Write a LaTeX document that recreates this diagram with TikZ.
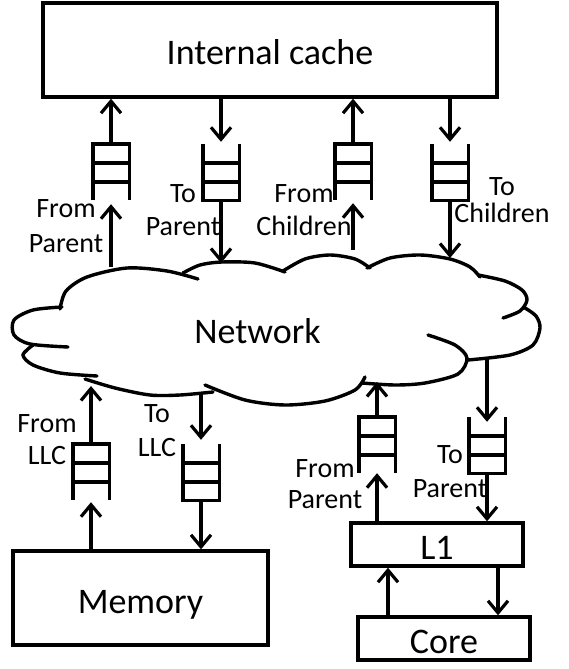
\documentclass[tikz,border=0pt]{standalone}
\usepackage{fontspec}
\setmainfont{Carlito}
\usetikzlibrary{arrows.meta,calc}
\tikzset{
  box/.style={draw, line width=3.4pt, inner sep=0pt, text height=30pt, text depth=0pt, font=\fontsize{36}{43}\selectfont},
  qnode/.style={inner sep=0pt, minimum width=36pt, minimum height=56pt},
  qline/.style={line width=3.4pt},
  arr/.style={line width=3.2pt, -{Straight Barb[length=12pt,width=20pt]}},
  lbl/.style={align=center, inner sep=0pt, anchor=north, font=\fontsize{28}{#1}\selectfont},
  cloudline/.style={line width=3.4pt, line cap=round},
}
\newcommand\qfrom[2]{%
  \node[qnode] (#1) at (#2) {};
  \draw[qline] (#1.south west) -- (#1.north west) -- (#1.north east) -- (#1.south east);
  \draw[qline] ($(#1.north west)!0.34!(#1.south west)$) -- ($(#1.north east)!0.34!(#1.south east)$);
  \draw[qline] ($(#1.north west)!0.68!(#1.south west)$) -- ($(#1.north east)!0.68!(#1.south east)$);
}
\newcommand\qto[2]{%
  \node[qnode] (#1) at (#2) {};
  \draw[qline] (#1.north west) -- (#1.south west) -- (#1.south east) -- (#1.north east);
  \draw[qline] ($(#1.north west)!0.34!(#1.south west)$) -- ($(#1.north east)!0.34!(#1.south east)$);
  \draw[qline] ($(#1.north west)!0.68!(#1.south west)$) -- ($(#1.north east)!0.68!(#1.south east)$);
}
\begin{document}
\begin{tikzpicture}[x=1pt,y=-1pt]
\useasboundingbox (0,0) rectangle (569,669);

% boxes
\node[box, minimum width=454pt, minimum height=94pt] (cache) at (270,50) {Internal cache};
\node[box, minimum width=255pt, minimum height=94pt] (mem) at (140.5,598) {Memory};
\node[box, minimum width=172pt, minimum height=43pt] (l1) at (437,544.5) {L1};
\node[box, minimum width=172pt, minimum height=43pt] (core) at (444,638.5) {Core};

% cloud
\draw[cloudline] plot[smooth] coordinates {(60,309) (66,291) (87,277) (127,268) (167,271) (198,279)};
\draw[cloudline] plot[smooth] coordinates {(183,273) (200,265) (222,262) (255,263) (285,272)};
\draw[cloudline] plot[smooth] coordinates {(283,271) (305,259) (330,255) (355,259) (370,268)};
\draw[cloudline] plot[smooth] coordinates {(367,268) (390,258) (420,255) (450,259) (470,267) (480,277)};
\draw[cloudline] plot[smooth] coordinates {(478,275) (505,281) (522,290) (527,300) (520,311) (503,318)};
\draw[cloudline] plot[smooth] coordinates {(525,308) (536,316) (540,328) (533,345) (510,355) (468,360)};
\draw[cloudline] plot[smooth] coordinates {(428,335) (455,345) (467,358) (458,374) (425,383) (395,385) (362,383)};
\draw[cloudline] plot[smooth] coordinates {(365,377) (355,390) (325,401) (285,405) (245,400) (205,385)};
\draw[cloudline] plot[smooth] coordinates {(213,392) (180,395) (150,395) (115,388) (85,379)};
\draw[cloudline] plot[smooth] coordinates {(97,376) (60,373) (33,365) (23,355) (33,345)};
\draw[cloudline] plot[smooth] coordinates {(62,307) (33,310) (14,320) (14,335) (30,344) (68,347)};
\node[font=\fontsize{36}{43}\selectfont, anchor=base, inner sep=0pt] (net) at (257.5,343) {Network};

\coordinate (c1) at (111,267);
\coordinate (c2) at (221,263);
\coordinate (c3) at (353,250);
\coordinate (c4) at (450,258);
\coordinate (c5) at (91,386);
\coordinate (c6) at (201,395);
\coordinate (c7) at (377,382);
\coordinate (c8) at (487,357);

% queues
\qfrom{q1}{111,172}
\qto{q2}{221,172}
\qfrom{q3}{353,172}
\qto{q4}{450,172}
\qfrom{q5}{91,472}
\qto{q6}{201,472}
\qfrom{q7}{377,445}
\qto{q8}{487,445}

% arrows top
\draw[arr] (q1.north) -- (q1.north |- cache.south);
\draw[arr, shorten >=4pt] (c1) -- (q1.south);
\draw[arr, shorten >=2pt] (q2.north |- cache.south) -- (q2.north);
\draw[arr] (q2.south) -- (c2);
\draw[arr] (q3.north) -- (q3.north |- cache.south);
\draw[arr, shorten >=3pt] (c3) -- (q3.south);
\draw[arr, shorten >=2pt] (q4.north |- cache.south) -- (q4.north);
\draw[arr] (q4.south) -- (c4);
% arrows bottom left
\draw[arr] (q5.north) -- (c5);
\draw[arr, shorten >=2pt] (q5.south |- mem.north) -- (q5.south);
\draw[arr, shorten >=4pt] (c6) -- (q6.north);
\draw[arr] (q6.south) -- (q6.south |- mem.north);
% arrows bottom right
\draw[arr] (q7.north) -- (c7);
\draw[arr] (q7.south |- l1.north) -- (q7.south);
\draw[arr, shorten >=-5pt] (c8) -- (q8.north);
\draw[arr] (q8.south) -- (q8.south |- l1.north);
\draw[arr] ([xshift=-56pt]core.north) -- ([xshift=-56pt]core.north |- l1.south);
\draw[arr] ([xshift=61pt]l1.south) -- ([xshift=61pt]l1.south |- core.north);

% labels
\node[lbl=35] (t1) at (66,197) {\rule{0pt}{20pt}From\\Parent};
\node[lbl=33] (t2) at (183,182) {\rule{0pt}{20pt}To\\Parent};
\node[lbl=33] (t3) at (304,182) {\rule{0pt}{20pt}From\\Children};
\node[lbl=27] (t4) at (502,175) {\rule{0pt}{20pt}To\\Children};
\node[lbl=32] (t5) at (47,412) {\rule{0pt}{20pt}From\\LLC};
\node[lbl=34] (t6) at (157,402) {\rule{0pt}{20pt}To\\LLC};
\node[lbl=31] (t7) at (325,457) {\rule{0pt}{20pt}From\\Parent};
\node[lbl=34] (t8) at (450,443) {\rule{0pt}{20pt}To\\Parent};
\end{tikzpicture}
\end{document}
